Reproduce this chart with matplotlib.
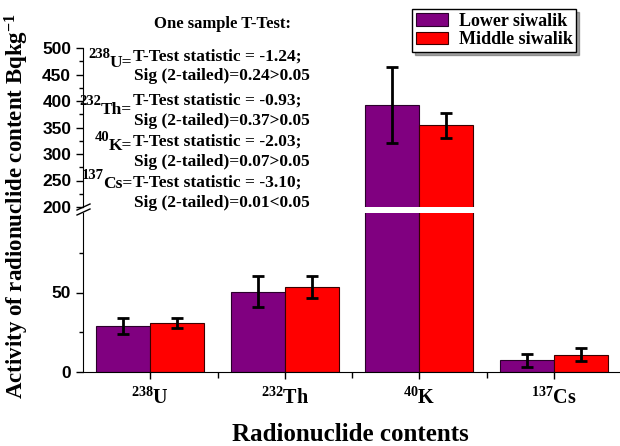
import numpy as np
import matplotlib
matplotlib.use("Agg")
import matplotlib.pyplot as plt
from matplotlib.lines import Line2D

plt.rcParams['font.family'] = 'Liberation Serif'
plt.rcParams['font.weight'] = 'bold'
plt.rcParams['mathtext.fontset'] = 'custom'
plt.rcParams['mathtext.rm'] = 'Liberation Serif:bold'
plt.rcParams['mathtext.it'] = 'Liberation Serif:bold'
plt.rcParams['mathtext.bf'] = 'Liberation Serif:bold'

# data
nuclides = [r'$^{238}\mathrm{U}$', r'$^{232}\mathrm{Th}$', r'$^{40}\mathrm{K}$', r'$^{137}\mathrm{Cs}$']
lower = [28.8, 50.6, 392, 7.3]
lower_err = [5.2, 10, 72, 4]
middle = [30.7, 53.5, 354, 11.0]
middle_err = [3.1, 7, 24, 4.3]
series_names = ['Lower siwalik', 'Middle siwalik']

mass_numbers = ['238', '232', '40', '137']
elements = ['U=', 'Th=', 'K=', 'Cs=']
ttest_stat = ['T-Test statistic = -1.24;', 'T-Test statistic = -0.93;',
              'T-Test statistic = -2.03;', 'T-Test statistic = -3.10;']
ttest_sig = ['Sig (2-tailed)=0.24>0.05', 'Sig (2-tailed)=0.37>0.05',
             'Sig (2-tailed)=0.07>0.05', 'Sig (2-tailed)=0.01<0.05']

W, H = 620, 446
fig = plt.figure(figsize=(W / 100, H / 100), dpi=100)
left, width = 83 / W, 538 / W
ax_top = fig.add_axes([left, 1 - 207 / H, width, 159 / H])
ax_bot = fig.add_axes([left, 1 - 372 / H, width, 159 / H])

x = np.arange(len(nuclides))
bw = 0.4
ekw = dict(elinewidth=2, capthick=2, ecolor='black')
for ax in (ax_top, ax_bot):
    ax.bar(x - bw / 2, lower, bw, yerr=lower_err, capsize=4, color='#800080',
           edgecolor='#2a002a', linewidth=0.8, error_kw=ekw, label=series_names[0])
    ax.bar(x + bw / 2, middle, bw, yerr=middle_err, capsize=4, color='#ff0000',
           edgecolor='#3a0000', linewidth=0.8, error_kw=ekw, label=series_names[1])
    ax.set_xlim(-0.5, 3.5)
    ax.spines['top'].set_visible(False)
    ax.spines['right'].set_visible(False)
    ax.tick_params(axis='y', direction='out', length=5, width=1)
    ax.tick_params(axis='y', which='minor', direction='out', length=3, width=1)

ax_top.set_ylim(200, 500)
ax_top.set_yticks(np.arange(200, 501, 50))
ax_top.set_yticks(np.arange(225, 500, 50), minor=True)
ax_top.spines['bottom'].set_visible(False)
ax_top.tick_params(axis='x', which='both', bottom=False, labelbottom=False)

ax_bot.set_ylim(0, 100)
ax_bot.set_yticks([0, 50])
ax_bot.set_yticks([25, 75], minor=True)
ax_bot.set_xticks(x)
ax_bot.set_xticklabels(nuclides, fontsize=14.5)
ax_bot.set_xticks(x[:-1] + 0.5, minor=True)
ax_bot.tick_params(axis='x', which='major', direction='out', length=5, width=1, pad=6)
ax_bot.tick_params(axis='x', which='minor', direction='out', length=4, width=1)

for ax in (ax_top, ax_bot):
    for lab in ax.get_yticklabels():
        lab.set_fontfamily('Liberation Sans')
        lab.set_fontweight('bold')
        lab.set_fontsize(12.5)

# break marks on the y axis
for dy in (0, 5):
    fig.add_artist(Line2D([77 / W, 90 / W], [1 - (210 + dy) / H, 1 - (204 + dy) / H],
                          color='black', lw=1))

# axis labels
fig.text(17 / W, 1 - 206 / H, r'Activity of radionuclide content Bqkg$^{-1}$',
         rotation=90, ha='center', va='center', fontsize=16.5)
fig.text(350 / W, 1 - 441 / H, 'Radionuclide contents', ha='center', va='baseline',
         fontsize=18)

# t-test annotations
fig.text(223 / W, 1 - 28 / H, 'One sample T-Test:', ha='center', va='baseline', fontsize=12)
stat_y = [61, 105, 146, 187]
sig_y = [80, 125, 166, 207]
pre_y = [67, 114, 150, 188]
renderer = fig.canvas.get_renderer()
for i in range(4):
    elem = fig.text(132 / W, 1 - pre_y[i] / H, elements[i], ha='right', va='baseline',
                    fontsize=12.5)
    bb = elem.get_window_extent(renderer)
    fig.text((bb.x0 + 1) / W, 1 - (pre_y[i] - 9) / H, mass_numbers[i], ha='right',
             va='baseline', fontsize=10.5)
    fig.text(133 / W, 1 - stat_y[i] / H, ttest_stat[i], ha='left', va='baseline', fontsize=12.5)
    fig.text(134 / W, 1 - sig_y[i] / H, ttest_sig[i], ha='left', va='baseline', fontsize=12.5)

fig.legend(*ax_top.get_legend_handles_labels(), loc='upper left',
           bbox_to_anchor=(412 / W, 1 - 9 / H), fontsize=13, frameon=True,
           fancybox=False, shadow=True, edgecolor='black', framealpha=1,
           handlelength=1.8, handleheight=0.7, handletextpad=0.6,
           labelspacing=0.1, borderpad=0.2, borderaxespad=0)

fig.savefig('out.png', dpi=100)
